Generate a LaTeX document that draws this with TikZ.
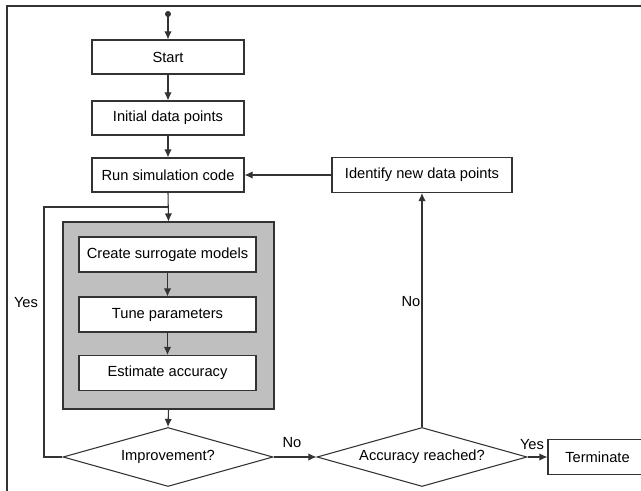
\documentclass[tikz,border=0pt]{standalone}
\usepackage{fontspec}
\setmainfont{Liberation Sans}
\usetikzlibrary{arrows.meta,shapes.geometric}
\begin{document}
\begin{tikzpicture}[x=0.75pt,y=-0.75pt,
  line width=0.8pt,
  font=\fontsize{11}{13}\selectfont,
  ln/.style={draw=black!80},
  arr/.style={ln, -{Latex[length=6pt,width=5.5pt]}},
  proc/.style={draw=black!80, fill=white, rectangle, inner sep=0pt,
    minimum width=152*0.75pt, minimum height=34*0.75pt},
  inproc/.style={draw=black!80, fill=white, rectangle, inner sep=0pt,
    minimum width=177*0.75pt, minimum height=35*0.75pt},
  decide/.style={draw=black!80, fill=white, diamond, inner sep=0pt, aspect=3.6,
    minimum width=210*0.75pt, minimum height=59*0.75pt},
  grp/.style={draw=black!80, fill=black!25, rectangle, inner sep=0pt,
    minimum width=211*0.75pt, minimum height=187*0.75pt},
  lbl/.style={inner sep=0pt, font=\fontsize{11}{13}\selectfont}
]
\useasboundingbox (0,0) rectangle (641,491);
\clip (0,0) rectangle (641,491);
\draw[ln] (7,6) rectangle (660,510);

\node[grp] (group) at (168.5,315.5) {};

\fill[black!80] (168,14) circle (3);
\coordinate (dot) at (168,14);
\node[proc] (start) at (168,57) {Start};
\node[proc] (init) at (168,118) {Initial data points};
\node[proc] (run) at (168,175) {Run simulation code};
\node[proc, minimum width=180*0.75pt, minimum height=35*0.75pt] (ident) at (422,175) {Identify new data points};
\node[inproc] (create) at (167.5,254.5) {Create surrogate models};
\node[inproc] (tune) at (167.5,314.5) {Tune parameters};
\node[inproc] (est) at (167.5,373) {Estimate accuracy};
\node[decide] (imp) at (168,457) {Improvement?};
\node[decide] (acc) at (422,457) {Accuracy reached?};
\node[proc, minimum width=99*0.75pt, minimum height=35*0.75pt] (term) at (597.5,457) {Terminate};

\coordinate (yl) at (44,207);
\coordinate (yj) at (168,207);

\draw[arr] (dot) -- (start);
\draw[arr] (start) -- (init);
\draw[arr] (init) -- (run);
\draw[arr] (run.south) -- (group.north);
\draw[arr] (create) -- (tune);
\draw[arr] (tune) -- (est);
\draw[arr] (group.south) -- (imp.north);
\draw[ln] (imp.west) -| (yl) -- (yj);
\draw[arr] (imp.east) -- (acc.west);
\draw[arr] (acc.north) -- (ident.south);
\draw[arr] (ident.west) -- (run.east);
\draw[arr] (acc.east) -- (term.west);

\node[lbl] (yes1) at (26,303) {Yes};
\node[lbl] (no1) at (292,443) {No};
\node[lbl] (no2) at (411,302) {No};
\node[lbl] (yes2) at (532,445) {Yes};
\end{tikzpicture}
\end{document}
